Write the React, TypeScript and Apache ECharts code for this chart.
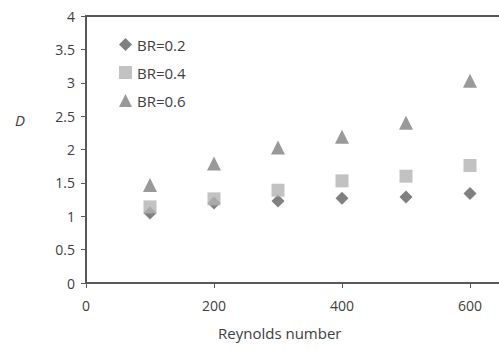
import React, { useEffect, useRef } from "react";
import * as echarts from "echarts";

const reynolds = [100, 200, 300, 400, 500, 600];
const br02 = [1.05, 1.2, 1.23, 1.27, 1.29, 1.34];
const br04 = [1.14, 1.26, 1.39, 1.53, 1.6, 1.76];
const br06 = [1.47, 1.79, 2.03, 2.19, 2.4, 3.03];
const seriesNames = ["BR=0.2", "BR=0.4", "BR=0.6"];

const FONT = "'Open Sans', 'Noto Sans', sans-serif";

export default function App() {
  const ref = useRef<HTMLDivElement>(null);
  useEffect(() => {
    if (!ref.current) return;
    const chart = echarts.init(ref.current, undefined, { renderer: "svg" });
    const mk = (vals: number[]) => reynolds.map((x, i) => [x, vals[i]]);
    chart.setOption({
      animation: false,
      backgroundColor: "#ffffff",
      textStyle: { fontFamily: FONT },
      grid: {
        left: 86,
        top: 16,
        right: -35,
        bottom: 66,
        show: true,
        outerBoundsMode: "none",
        containLabel: false,
        borderColor: "#595959",
        borderWidth: 2,
        backgroundColor: "transparent",
      },
      legend: {
        orient: "vertical",
        left: 114,
        top: 32,
        itemGap: 13,
        itemWidth: 13,
        itemHeight: 13,
        textStyle: { fontSize: 15, color: "#404040", fontFamily: FONT },
        data: seriesNames,
      },
      xAxis: {
        type: "value",
        min: 0,
        max: 700,
        interval: 200,
        axisLine: { lineStyle: { color: "#595959", width: 1.5 } },
        axisTick: { show: true, length: 5, lineStyle: { color: "#595959" } },
        axisLabel: {
          fontSize: 14,
          color: "#404040",
          margin: 15,
          fontFamily: FONT,
          formatter: (v: number) => (v > 600 ? "" : String(v)),
        },
        splitLine: { show: false },
      },
      yAxis: {
        type: "value",
        min: 0,
        max: 4,
        interval: 0.5,
        axisLine: { show: true, lineStyle: { color: "#595959", width: 1.5 } },
        axisTick: { show: true, length: 5, lineStyle: { color: "#595959" } },
        axisLabel: { fontSize: 14, color: "#404040", margin: 11, fontFamily: FONT },
        splitLine: { show: false },
      },
      graphic: [
        {
          type: "text",
          left: 15,
          top: 112,
          style: { text: "D", fontSize: 15, fontStyle: "italic", fill: "#404040", fontFamily: FONT },
        },
        {
          type: "text",
          left: 218,
          top: 325,
          style: { text: "Reynolds number", fontSize: 15, fill: "#404040", fontFamily: FONT },
        },
      ],
      series: [
        {
          name: seriesNames[0],
          type: "scatter",
          symbol: "diamond",
          symbolSize: 13,
          itemStyle: { color: "#606060" },
          data: mk(br02),
          z: 1,
        },
        {
          name: seriesNames[1],
          type: "scatter",
          symbol: "rect",
          symbolSize: 13,
          itemStyle: { color: "#b3b3b3" },
          data: mk(br04),
          z: 2,
        },
        {
          name: seriesNames[2],
          type: "scatter",
          symbol: "triangle",
          symbolSize: 14,
          itemStyle: { color: "#808080" },
          data: mk(br06),
          z: 3,
        },
      ],
    });
    return () => chart.dispose();
  }, []);
  return <div ref={ref} style={{ width: 499, height: 349, position: "absolute", left: 0, top: 0 }} />;
}
